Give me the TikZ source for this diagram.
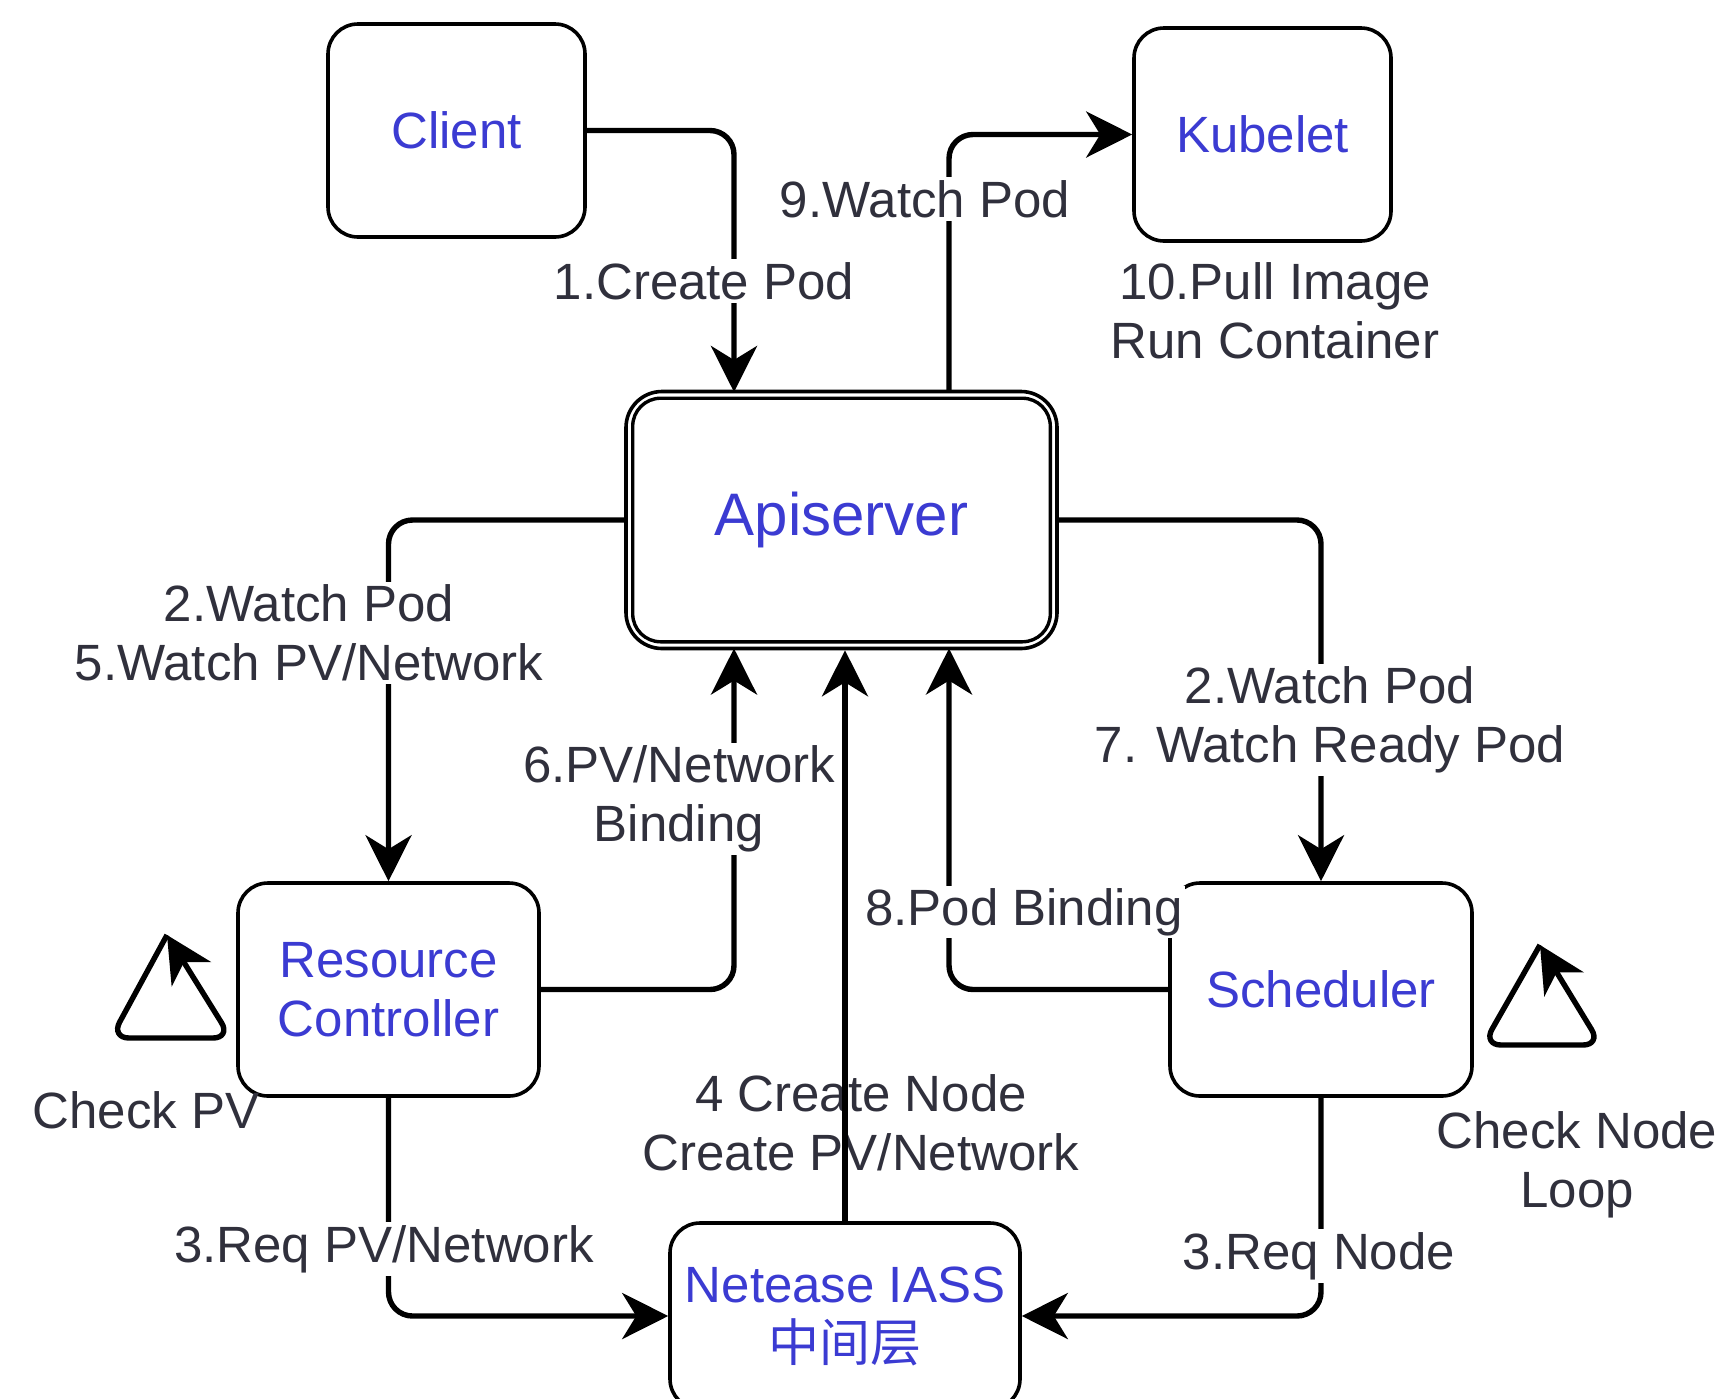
\documentclass[tikz,border=0pt]{standalone}
\usepackage{fontspec}
\setmainfont{Liberation Sans}
\newfontfamily\cjk{Noto Sans CJK SC}
\usetikzlibrary{arrows.meta,calc}

\definecolor{nodetext}{HTML}{3B3BD2}
\definecolor{labeltext}{HTML}{30303C}

\tikzset{
  box/.style={draw=black, line width=3.6pt, rounded corners=30pt, fill=white,
    text=nodetext, align=center, inner sep=0pt,
    font=\fontsize{51}{59}\selectfont},
  flow/.style={line width=5.4pt, rounded corners=24pt,
    -{Stealth[length=46pt,width=46pt,inset=14pt]}},
  lbl/.style={text=labeltext, align=center, inner sep=3pt,
    font=\fontsize{51}{59}\selectfont},
  lblbg/.style={lbl, fill=white},
}

\begin{document}
\begin{tikzpicture}[x=1pt,y=-1pt]
\useasboundingbox (0,0) rectangle (1731,1398);
\clip (0,0) rectangle (1731,1398);
\fill[white] (0,0) rectangle (1731,1398);

% components
\node[box, minimum width=257pt, minimum height=213pt] (client) at (456.5,130.5) {Client};
\node[box, minimum width=257pt, minimum height=213pt] (kubelet) at (1262.5,134.5) {Kubelet};
\node[box, minimum width=301pt, minimum height=213pt] (rc) at (388.5,989.5) {Resource\\Controller};
\node[box, minimum width=302pt, minimum height=213pt] (sched) at (1321,989.5) {Scheduler};
\node[box, minimum width=350pt, minimum height=186pt] (iaas) at (845,1316)
  {Netease IASS\\{\cjk 中间层}};

% apiserver with a double border
\node[box, minimum width=431pt, minimum height=257pt, rounded corners=36pt,
  font=\fontsize{60}{70}\selectfont] (api) at (841.5,520) {Apiserver};
\draw[line width=3.4pt, rounded corners=28pt]
  ($(api.north west)+(8.5,8.5)$) rectangle ($(api.south east)+(-8.5,-8.5)$);

% the loop markers beside the two controllers
\coordinate (pvtop) at (167,935);
\draw[flow, rounded corners=18pt] (pvtop) -- (111,1038) -- (231,1038) -- (pvtop);
\node[lbl] (checkpv) at (146,1110) {Check PV};

\coordinate (ndtop) at (1540,945);
\draw[flow, rounded corners=18pt] (ndtop) -- (1483,1045) -- (1601,1045) -- (ndtop);
\node[lbl] (checknode) at (1577,1165) {Check Node\\Loop};

% 1. client creates the pod
\draw[flow] (client.east) -- (734,130.5) -- (734,392);
\node[lblbg] (l1) at (704,281) {1.Create Pod};

% 9. kubelet watches the apiserver
\draw[flow] (949,392) -- (949,134.5) -- (kubelet.west);
\node[lblbg] (l9) at (925,199) {9.Watch Pod};
\node[lbl] (l10) at (1275,311) {10.Pull Image\\Run Container};

% 2/5. resource controller watches
\draw[flow] (api.west) -- (388.5,520) -- (rc.north);
\node[lblbg] (l2a) at (309,633) {2.Watch Pod\\5.Watch PV/Network};

% 2/7. scheduler watches
\draw[flow] (api.east) -- (1321,520) -- (sched.north);
\node[lblbg] (l2b) at (1330,720) {2.Watch Pod\\7. Watch Ready Pod};

% 6. PV/network binding
\draw[flow] (rc.east) -- (734,989.5) -- (734,648.5);
\node[lblbg] (l6) at (679,799) {6.PV/Network\\Binding};

% 8. pod binding
\draw[flow] (sched.west) -- (949,989.5) -- (949,648.5);
\node[lblbg, inner sep=2pt] (l8) at (1024,912) {8.Pod Binding};

% 4. IaaS layer creates resources (line drawn over its label)
\node[lbl] (l4) at (861,1123) {4 Create Node\\Create PV/Network};
\draw[flow] (iaas.north) -- (iaas.north |- api.south);

% 3. requests to the IaaS layer
\draw[flow] (rc.south) -- (388.5,1316) -- (iaas.west);
\node[lblbg] (l3a) at (384,1249) {3.Req PV/Network};
\draw[flow] (sched.south) -- (1321,1316) -- (iaas.east);
\node[lblbg] (l3b) at (1319,1256) {3.Req Node};
\end{tikzpicture}
\end{document}
